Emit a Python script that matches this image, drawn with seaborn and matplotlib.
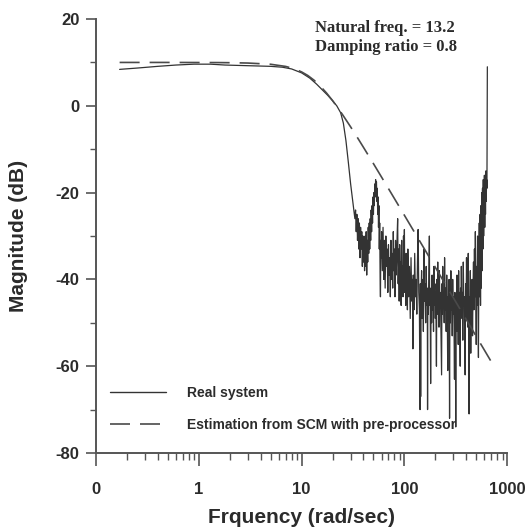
import matplotlib
matplotlib.use("Agg")
import matplotlib.pyplot as plt
import seaborn as sns
import pandas as pd
from matplotlib.lines import Line2D
from matplotlib.ticker import LogLocator, NullFormatter, MultipleLocator

# ---------------- data ----------------
# smooth low-frequency part of the measured response
real_freq_low = [0.17, 0.25, 0.4, 0.6, 0.9, 1.3, 1.8, 2.5, 3.5, 5, 6.5, 8, 10, 12, 14, 16, 18, 20,
                 22, 24, 25.5, 27, 28.5, 30, 31.8]
real_db_low = [8.4, 8.7, 9.1, 9.4, 9.6, 9.6, 9.4, 9.3, 9.2, 9.1, 8.9, 8.5, 7.6, 6.4, 5.0, 3.6, 2.4, 1.2,
               0.0, -1.6, -4, -8, -13, -18, -23]
# noisy part (33 .. 641 rad/s)
real_freq_noisy = [33, 33.5, 34, 34.5, 35, 35.5, 36, 36.5, 37, 37.5, 38, 38.5, 39, 39.5, 40, 40.5,
                   41, 41.5, 42, 42.5, 43, 43.5, 44, 44.5, 45, 45.5, 46, 46.5, 47, 47.5, 48, 48.5,
                   49, 49.5, 50, 50.5, 51, 51.5, 52, 52.5, 53, 53.5, 54, 54.5, 55, 55.5, 56, 56.5,
                   57, 57.5, 58, 58.5, 59, 59.5,
                   60, 61, 62, 63, 64, 65, 66, 67, 68, 69, 70, 71, 72, 73, 74, 75, 76, 77, 78, 79,
                   80, 81, 82, 83, 84, 85, 86, 87, 88, 89, 90, 91, 92, 93, 94, 95, 96, 97, 98, 99,
                   100, 101, 102, 103, 104, 105, 106, 107, 108, 110,
                   112, 114, 116, 118, 120, 121, 122, 124, 126, 128, 130, 132, 134, 136, 138, 140,
                   142, 143, 144, 145, 147, 149, 151, 153, 155, 157, 159, 161, 163, 165, 167, 168,
                   169, 171, 173, 175, 176, 178, 180, 182, 184, 186, 188, 190, 192, 194, 196, 198,
                   200, 202, 205, 207, 209, 211, 213, 215, 217, 219, 221, 224, 227, 230, 232, 234,
                   236, 238, 241, 244, 246, 249, 252, 255, 258, 261, 264, 266, 269, 272, 275, 277,
                   280, 283, 286, 289, 292, 295, 298, 301, 304, 307, 310, 313, 316, 319, 322, 325,
                   328, 331, 334, 337, 340, 343, 346, 349, 352, 355, 358, 362, 366, 370, 374, 378,
                   382, 386, 390, 394, 398, 402, 406, 410, 414, 418, 422, 426, 430, 434, 438, 442,
                   446, 450, 455, 460, 465, 470, 475, 480, 485, 490, 495, 500, 505, 510, 515, 520,
                   525, 530, 535, 540, 545, 550, 555, 560, 565, 570, 575, 580, 585, 590, 600, 605,
                   610, 615, 620, 625, 630, 635, 641]
real_db_noisy = [-26, -24, -29, -25, -31, -26, -33, -27, -35, -28, -33, -29, -37, -30, -36, -31,
                 -38, -30, -37, -29, -39, -31, -36, -28, -34, -27, -33, -26, -31, -24, -29, -23,
                 -27, -21, -25, -20, -23, -18, -21, -17, -19, -17.5, -22, -19, -25, -21, -28, -23,
                 -33, -27, -38, -44, -31, -35,
                 -29, -38, -28, -40, -31, -42, -30, -37, -33, -43, -32, -39, -35, -44, -31, -40,
                 -34, -42, -29, -38, -33, -44, -31, -39, -36, -30, -26, -41, -33, -45, -32, -40,
                 -36, -46, -31, -42, -37, -44, -30, -40, -28.5, -43, -36, -46, -34, -41, -38, -47,
                 -33, -44,
                 -37, -49, -35, -45, -40, -56, -39, -47, -34, -44, -40, -48, -36, -28.5, -43, -47,
                 -70, -41, -67, -45, -38, -49, -40, -52, -33, -45, -41, -50, -37, -46, -42, -70,
                 -44, -48, -38, -30, -46, -42, -64, -43, -50, -39, -47, -44, -52, -37, -46, -41,
                 -49, -43, -60, -40, -48, -36, -46, -42, -51, -38, -45, -43, -53, -62, -41, -48,
                 -37, -46, -43, -50, -35, -47, -42, -52, -39, -46, -61, -44, -49, -40, -72, -45,
                 -50, -38, -47, -43, -53, -40, -48, -44, -51, -63, -43, -49, -74, -45, -52, -39,
                 -47, -44, -55, -38, -48, -43, -51, -60, -42, -49, -37, -47, -43, -54, -36, -46,
                 -44, -52, -62, -41, -49, -35, -45, -43, -51, -34, -47, -71, -44, -50, -38, -57,
                 -43, -48, -40, -53, -42, -36, -47, -33, -44, -29, -41, -55, -37, -46, -30, -43,
                 -58, -35, -27, -44, -25, -46, -23, -42, -20, -38, -19, -33, -17, -30, -16, -28,
                 -18, -25, -15, -22, -17, -19, 9]

est_freq = [0.17, 0.3, 0.5, 1, 1.5, 2, 3, 5, 7, 8.5, 10, 11.5, 13.2, 15, 17.5, 20, 25, 30, 35,
            40, 50, 70, 100, 150, 200, 300, 400, 500, 600, 700]
est_db = [10.0, 10.0, 10.0, 9.98, 9.97, 9.94, 9.86, 9.58, 9.08, 8.53, 7.82, 6.99, 5.92, 4.70,
          2.95, 1.22, -2.01, -4.85, -7.35, -9.57, -13.32, -19.07, -25.22, -32.24, -37.23,
          -44.27, -49.26, -53.14, -56.30, -58.98]

x_ticks = [0.1, 1, 10, 100, 1000]
x_tick_labels = ["0", "1", "10", "100", "1000"]
y_ticks = [-80, -60, -40, -20, 0, 20]
series_labels = ["Real system", "Estimation from SCM with pre-processor"]
annotation = "Natural freq. = 13.2\nDamping ratio = 0.8"

# ---------------- figure ----------------
sns.set_theme(style="ticks")
plt.rcParams["font.family"] = ["Liberation Sans", "DejaVu Sans"]
plt.rcParams["axes.unicode_minus"] = False

ink = "#2b2b2b"
fig = plt.figure(figsize=(5.3, 5.29), dpi=100)
ax = fig.add_axes([0.181, 0.1437, 0.776, 0.8203])

real = pd.DataFrame({"freq": real_freq_low + real_freq_noisy, "db": real_db_low + real_db_noisy})
est = pd.DataFrame({"freq": est_freq, "db": est_db})

dash = (0, (12, 6))
sns.lineplot(data=real, x="freq", y="db", ax=ax, estimator=None, sort=False,
             color="#333333", linewidth=0.9)
sns.lineplot(data=est, x="freq", y="db", ax=ax, estimator=None, sort=False,
             color="#4a4a4a", linewidth=1.2, linestyle=dash)

ax.set_xscale("log")
ax.set_xlim(0.1, 1000)
ax.set_ylim(-80, 20)
ax.set_xticks(x_ticks)
ax.set_xticklabels(x_tick_labels)
ax.xaxis.set_minor_locator(LogLocator(base=10, subs=range(2, 10)))
ax.xaxis.set_minor_formatter(NullFormatter())
ax.set_yticks(y_ticks)
ax.yaxis.set_minor_locator(MultipleLocator(10))

for s in ["top", "right"]:
    ax.spines[s].set_visible(False)
for s in ["left", "bottom"]:
    ax.spines[s].set_color("#555555")
    ax.spines[s].set_linewidth(1.4)

ax.tick_params(axis="x", which="major", direction="out", length=9, width=1.2,
               color="#555555", pad=12, labelsize=12, labelcolor=ink)
ax.tick_params(axis="x", which="minor", direction="out", length=5, width=1.0, color="#555555")
ax.tick_params(axis="y", which="major", direction="out", length=7, width=1.2,
               color="#555555", pad=5, labelsize=12, labelcolor=ink)
ax.tick_params(axis="y", which="minor", direction="out", length=4.5, width=1.0, color="#555555")
for lab in ax.get_xticklabels() + ax.get_yticklabels():
    lab.set_fontweight("bold")

ax.set_xlabel("Frquency (rad/sec)", fontsize=15, fontweight="bold", color=ink, labelpad=8)
ax.set_ylabel("Magnitude (dB)", fontsize=15, fontweight="bold", color=ink, labelpad=20)

handles = [Line2D([], [], color="#333333", linewidth=1.0),
           Line2D([], [], color="#4a4a4a", linewidth=1.2, linestyle=dash)]
leg = ax.legend(handles, series_labels, loc="lower left", bbox_to_anchor=(0.015, 0.03),
                frameon=False, handlelength=4.0, handletextpad=1.5, labelspacing=1.3,
                borderaxespad=0.2, prop={"family": "Liberation Sans", "weight": "bold", "size": 10})
for t in leg.get_texts():
    t.set_color(ink)

fig.text(0.594, 0.962, annotation, ha="left", va="top", fontsize=12, fontweight="bold",
         family=["Liberation Serif", "DejaVu Serif"], color=ink, linespacing=1.2)

fig.savefig("out.png", dpi=100, facecolor="white")
